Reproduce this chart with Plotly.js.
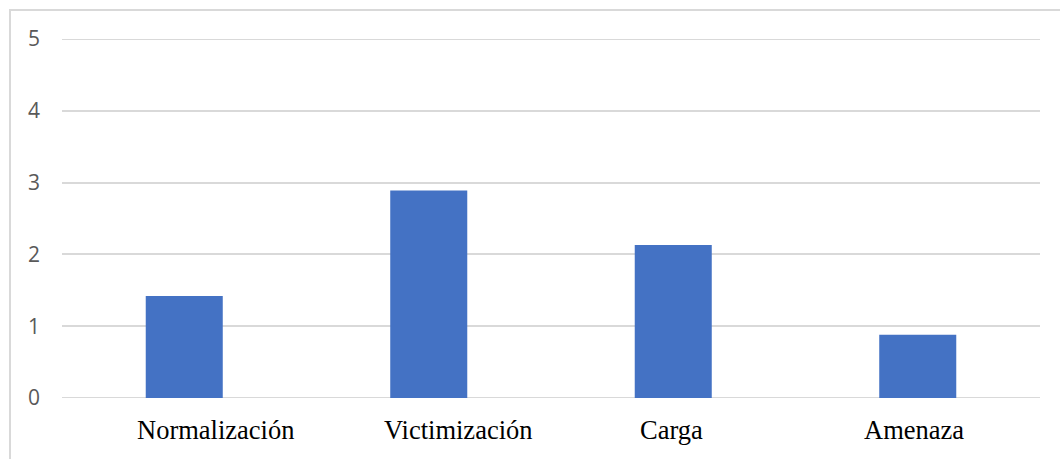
<!DOCTYPE html>
<html>
<head>
<meta charset="utf-8">
<script src="https://cdn.plot.ly/plotly-3.0.1.min.js"></script>
<style>
html,body{margin:0;padding:0;background:#fff;}
#wrap{position:relative;width:1060px;height:459px;overflow:hidden;}
#chart{position:absolute;left:0;top:0;width:1060px;height:459px;}
#frame{position:absolute;left:9px;top:9px;width:1100px;height:500px;border:2px solid #d9d9d9;box-sizing:border-box;pointer-events:none;}
</style>
</head>
<body>
<div id="wrap"><div id="chart"></div><div id="frame"></div></div>
<script>
var categories = ["Normalización", "Victimización", "Carga", "Amenaza"];
var values = [1.42, 2.89, 2.13, 0.88];
var yTicks = [0, 1, 2, 3, 4, 5];

// horizontal nudges (px) of each category label, as in the reference
var labelNudge = [31, 29.5, -1.5, -3.5];

var trace = {
  type: "bar",
  x: categories,
  y: values,
  marker: {color: "#4472c4"},
  hoverinfo: "x+y"
};

var edgeLines = [yTicks[0], yTicks[yTicks.length - 1]].map(function (v) {
  return {
    type: "line", xref: "paper", yref: "y",
    x0: 0, x1: 1, y0: v, y1: v,
    layer: "below",
    line: {color: "#d9d9d9", width: 2}
  };
});

var catLabels = categories.map(function (c, i) {
  return {
    x: c, y: 0, xref: "x", yref: "y",
    text: c, showarrow: false,
    xanchor: "center", yanchor: "top",
    xshift: labelNudge[i], yshift: -15,
    font: {family: "Liberation Serif, Times New Roman, serif", size: 26.5, color: "#000000"}
  };
});

var layout = {
  width: 1060,
  height: 459,
  margin: {l: 62, r: 20, t: 39, b: 61},
  paper_bgcolor: "#ffffff",
  plot_bgcolor: "#ffffff",
  bargap: 0.685,
  showlegend: false,
  shapes: edgeLines,
  annotations: catLabels,
  xaxis: {
    showgrid: false,
    zeroline: false,
    showline: false,
    ticks: "",
    showticklabels: false
  },
  yaxis: {
    range: [0, 5],
    tickvals: yTicks,
    ticktext: yTicks.map(String),
    showgrid: true,
    gridcolor: "#d9d9d9",
    gridwidth: 2,
    zeroline: false,
    showline: false,
    ticks: "",
    ticklabelstandoff: 21,
    tickfont: {family: "Open Sans, Liberation Sans, sans-serif", size: 21, color: "#595959"}
  }
};

Plotly.newPlot("chart", [trace], layout, {staticPlot: true, displayModeBar: false});
</script>
</body>
</html>
